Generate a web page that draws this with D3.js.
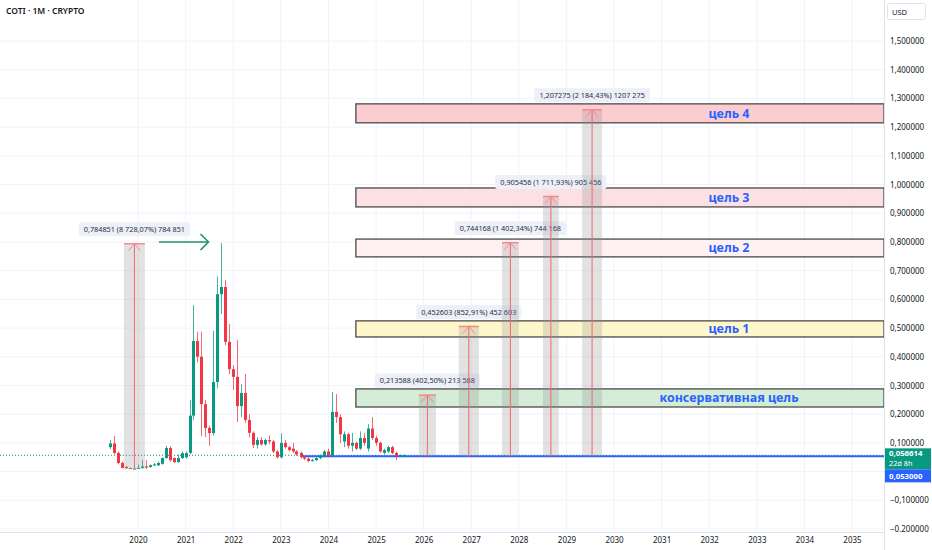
<!DOCTYPE html>
<html>
<head>
<meta charset="utf-8">
<script src="https://cdn.jsdelivr.net/npm/d3@7"></script>
<style>
  body { margin: 0; background: #fff; }
  svg { display: block; font-family: "Noto Sans", "Open Sans", sans-serif; }
</style>
</head>
<body>
<div id="chart-area"></div>
<script>
var total_width = 932;
var total_height = 550;

// monthly candles, first bar = June 2019
var candleStart = new Date(2019, 5, 1);
var candleOpen  = [0.085,0.098,0.065,0.030,0.016,0.012,0.010,0.011,0.013,0.018,0.016,0.021,0.022,0.027,0.047,0.082,0.047,0.033,0.047,0.050,
                   0.065,0.195,0.455,0.400,0.235,0.152,0.134,0.312,0.618,0.643,0.452,0.357,0.330,0.228,0.274,0.180,0.135,0.093,0.110,0.095,
                   0.110,0.105,0.070,0.050,0.100,0.085,0.080,0.070,0.065,0.050,0.045,0.037,0.040,0.047,0.055,0.070,0.055,0.208,0.190,0.105,
                   0.130,0.090,0.100,0.080,0.117,0.080,0.150,0.117,0.100,0.065,0.070,0.085,0.065,0.053,0.055];
var candleHigh  = [0.110,0.124,0.070,0.035,0.020,0.014,0.013,0.025,0.040,0.040,0.025,0.030,0.034,0.050,0.090,0.088,0.050,0.060,0.070,0.070,
                   0.250,0.580,0.487,0.487,0.250,0.160,0.490,0.680,0.796,0.667,0.514,0.370,0.459,0.305,0.340,0.200,0.140,0.120,0.120,0.115,
                   0.125,0.110,0.075,0.133,0.110,0.090,0.100,0.075,0.070,0.055,0.050,0.045,0.050,0.060,0.075,0.080,0.277,0.270,0.200,0.140,
                   0.135,0.135,0.105,0.140,0.135,0.165,0.190,0.125,0.105,0.080,0.090,0.090,0.070,0.060,0.060];
var candleLow   = [0.078,0.060,0.025,0.011,0.010,0.009,0.009,0.010,0.011,0.010,0.013,0.020,0.019,0.024,0.045,0.035,0.030,0.030,0.044,0.045,
                   0.060,0.180,0.380,0.124,0.120,0.090,0.125,0.290,0.550,0.440,0.340,0.284,0.173,0.190,0.170,0.120,0.082,0.080,0.090,0.090,
                   0.095,0.065,0.045,0.045,0.080,0.070,0.065,0.055,0.045,0.040,0.033,0.035,0.037,0.043,0.050,0.050,0.050,0.170,0.100,0.085,
                   0.080,0.070,0.075,0.075,0.090,0.070,0.110,0.090,0.065,0.060,0.065,0.060,0.040,0.050,0.053];
var candleClose = [0.098,0.065,0.030,0.013,0.012,0.009,0.0105,0.013,0.018,0.014,0.022,0.025,0.030,0.047,0.082,0.040,0.033,0.047,0.064,0.064,
                   0.195,0.455,0.400,0.235,0.152,0.134,0.312,0.618,0.643,0.452,0.357,0.330,0.228,0.274,0.180,0.135,0.093,0.110,0.095,0.110,
                   0.105,0.070,0.050,0.100,0.085,0.075,0.070,0.060,0.050,0.045,0.037,0.040,0.047,0.055,0.070,0.055,0.208,0.190,0.130,0.130,
                   0.090,0.100,0.080,0.117,0.100,0.150,0.117,0.100,0.070,0.075,0.085,0.065,0.053,0.056,0.0566];

// target zones
var zoneNames  = ["цель 4", "цель 3", "цель 2", "цель 1", "консервативная цель"];
var zoneLow    = [1.215, 0.922, 0.748, 0.469, 0.225];
var zoneHigh   = [1.281, 0.988, 0.810, 0.525, 0.288];
var zoneFill   = ["#fbcdd1", "#fde0e2", "#fff1f2", "#fff7cc", "#d5edd6"];
var zoneStart  = new Date(2024, 6, 30);

// measure arrows
var arrowStart = [new Date(2019,8,15), new Date(2025,10,25), new Date(2026,8,27), new Date(2027,7,25), new Date(2028,6,5), new Date(2029,4,1)];
var arrowEnd   = [new Date(2020,1,23), new Date(2026,3,5),   new Date(2027,2,1),  new Date(2028,0,1),  new Date(2028,10,3), new Date(2029,9,1)];
var arrowBase  = [0.00899, 0.053, 0.053, 0.053, 0.053, 0.053];
var arrowTop   = [0.793751, 0.266588, 0.505603, 0.797168, 0.958456, 1.260275];
var arrowText  = ["0,784851 (8 728,07%) 784 851", "0,213588 (402,50%) 213 588", "0,452603 (852,91%) 452 603",
                  "0,744168 (1 402,34%) 744 168", "0,905456 (1 711,93%) 905 456", "1,207275 (2 184,43%) 1207 275"];

// grid lines every 0.1, labels only where the reference shows them (0 is under the price tags)
var yGridValues = [-0.2,-0.1,0,0.1,0.2,0.3,0.4,0.5,0.6,0.7,0.8,0.9,1.0,1.1,1.2,1.3,1.4,1.5];
var yTickValues = [-0.2,-0.1,0.1,0.2,0.3,0.4,0.5,0.6,0.7,0.8,0.9,1.0,1.1,1.2,1.3,1.4,1.5];
var yTickLabels = ["−0.200000","−0,100000","0,100000","0,200000","0,300000","0,400000","0,500000","0,600000",
                   "0,700000","0,800000","0,900000","1,000000","1,100000","1,200000","1,300000","1,400000","1,500000"];
var xTickYears  = [2020,2021,2022,2023,2024,2025,2026,2027,2028,2029,2030,2031,2032,2033,2034,2035];

var lastPrice = 0.056614;
var linePrice = 0.053;
var lineStart = new Date(2023, 5, 20);
var greenArrowFrom = new Date(2020, 5, 10);
var greenArrowTo   = new Date(2021, 5, 25);
var greenArrowPrice = 0.80;

var plotRight = 884;
var plotBottom = 532;

var up = "#089981", down = "#f23645";

var svg = d3.select('#chart-area').append('svg')
            .attr("width", total_width)
            .attr("height", total_height);

var x = d3.scaleTime()
          .domain([new Date(2020,0,1), new Date(2035,0,1)])
          .range([138, 852]);

var y = d3.scaleLinear()
          .domain([-0.2, 1.5])
          .range([529, 41]);

// grid
var grid = svg.append("g");
grid.selectAll(".hg").data(yGridValues).enter().append("line")
    .attr("x1", 0).attr("x2", plotRight)
    .attr("y1", d => y(d)).attr("y2", d => y(d))
    .style("stroke", "#f0f3fa").style("stroke-width", 1);
grid.selectAll(".vg").data(xTickYears).enter().append("line")
    .attr("x1", d => x(new Date(d,0,1))).attr("x2", d => x(new Date(d,0,1)))
    .attr("y1", 0).attr("y2", plotBottom)
    .style("stroke", "#f0f3fa").style("stroke-width", 1);

// zones
var zones = svg.append("g");
zones.selectAll("rect").data(zoneNames).enter().append("rect")
    .attr("x", x(zoneStart))
    .attr("y", (d,i) => y(zoneHigh[i]))
    .attr("width", plotRight - x(zoneStart))
    .attr("height", (d,i) => y(zoneLow[i]) - y(zoneHigh[i]))
    .style("fill", (d,i) => zoneFill[i])
    .style("stroke", "#4a4a4a")
    .style("stroke-width", 1.3);

// last price dotted line and blue level line
svg.append("line")
    .attr("x1", 0).attr("x2", plotRight)
    .attr("y1", y(lastPrice)).attr("y2", y(lastPrice))
    .style("stroke", up).style("stroke-width", 1)
    .style("stroke-dasharray", "1,2");
svg.append("line")
    .attr("x1", x(lineStart)).attr("x2", plotRight)
    .attr("y1", y(linePrice)).attr("y2", y(linePrice))
    .style("stroke", "#2962ff").style("stroke-width", 2);

// candles
var candles = svg.append("g");
var candleIdx = d3.range(candleOpen.length);
function cx(i){ return Math.round(x(d3.timeMonth.offset(candleStart, i))) + 0.5; }
function ccol(i){ return candleClose[i] >= candleOpen[i] ? up : down; }
candles.selectAll(".wick").data(candleIdx).enter().append("line")
    .attr("x1", cx).attr("x2", cx)
    .attr("y1", i => y(candleHigh[i])).attr("y2", i => y(candleLow[i]))
    .style("stroke", ccol).style("stroke-width", 1).style("opacity", 0.75);
candles.selectAll(".body").data(candleIdx).enter().append("rect")
    .attr("x", i => cx(i) - 1.5)
    .attr("width", 3)
    .attr("y", i => y(Math.max(candleOpen[i], candleClose[i])))
    .attr("height", i => Math.max(1, Math.abs(y(candleOpen[i]) - y(candleClose[i]))))
    .style("fill", ccol);

// measure arrows
var arrows = svg.append("g");
arrowText.forEach(function(t, i){
  var x0 = x(arrowStart[i]), x1 = x(arrowEnd[i]);
  var mid = (x0 + x1) / 2;
  var yt = y(arrowTop[i]), yb = y(arrowBase[i]);
  arrows.append("rect")
    .attr("x", x0).attr("y", yt).attr("width", x1 - x0).attr("height", yb - yt)
    .style("fill", "rgba(140,140,140,0.25)");
  arrows.append("line")
    .attr("x1", mid).attr("x2", mid).attr("y1", yt).attr("y2", yb)
    .style("stroke", "#f4666b").style("stroke-width", 1);
  arrows.append("line")
    .attr("x1", x0).attr("x2", x1).attr("y1", yt).attr("y2", yt)
    .style("stroke", "#f6898d").style("stroke-width", 1.5);
  arrows.append("path")
    .attr("d", "M" + (mid - 6) + "," + (yt + 7) + "L" + mid + "," + yt + "L" + (mid + 6) + "," + (yt + 7))
    .style("fill", "none").style("stroke", "#f6898d").style("stroke-width", 1);

  var lab = arrows.append("g").attr("transform", "translate(" + mid + "," + (yt - 14.5) + ")");
  var bg = lab.append("rect").attr("rx", 2).style("fill", "#edf0f9");
  var tx = lab.append("text")
    .attr("text-anchor", "middle").attr("dy", "0.35em")
    .style("font-size", "7.3px").style("fill", "#2a2e39")
    .text(t);
  var w = tx.node().getComputedTextLength() + 10;
  bg.attr("x", -w/2).attr("y", -7).attr("width", w).attr("height", 14);
});

// zone titles
zones.selectAll("text").data(zoneNames).enter().append("text")
    .attr("x", 729)
    .attr("y", (d,i) => (y(zoneHigh[i]) + y(zoneLow[i])) / 2)
    .attr("dy", "0.36em")
    .attr("text-anchor", "middle")
    .style("font-size", "12.5px").style("font-weight", "bold")
    .style("fill", "#2962ff")
    .text(d => d);

// green pointer arrow
var gy = y(greenArrowPrice), gx0 = x(greenArrowFrom), gx1 = x(greenArrowTo);
svg.append("line").attr("x1", gx0).attr("x2", gx1).attr("y1", gy).attr("y2", gy)
    .style("stroke", "#22936f").style("stroke-width", 1.6);
svg.append("path")
    .attr("d", "M" + (gx1 - 8) + "," + (gy - 8) + "L" + gx1 + "," + gy + "L" + (gx1 - 8) + "," + (gy + 8))
    .style("fill", "none").style("stroke", "#22936f").style("stroke-width", 1.6);

// axes panels
svg.append("line").attr("x1", plotRight + 0.5).attr("x2", plotRight + 0.5).attr("y1", 0).attr("y2", total_height)
    .style("stroke", "#e0e3eb");
svg.append("line").attr("x1", 0).attr("x2", plotRight).attr("y1", plotBottom + 0.5).attr("y2", plotBottom + 0.5)
    .style("stroke", "#e0e3eb");

var yAxis = d3.axisRight(y)
    .tickValues(yTickValues)
    .tickSize(0)
    .tickPadding(6)
    .tickFormat((d,i) => yTickLabels[i]);
var yg = svg.append("g").attr("transform", "translate(" + plotRight + ",0)").call(yAxis);
yg.select(".domain").remove();
yg.selectAll("text").style("font-size", "8px").style("fill", "#131722").style("font-family", "Noto Sans, sans-serif");

var xAxis = d3.axisBottom(x)
    .tickValues(xTickYears.map(d => new Date(d,0,1)))
    .tickSize(0)
    .tickPadding(5)
    .tickFormat(d3.timeFormat("%Y"));
var xg = svg.append("g").attr("transform", "translate(0," + plotBottom + ")").call(xAxis);
xg.select(".domain").remove();
xg.selectAll("text").style("font-size", "8px").style("fill", "#131722").style("font-family", "Noto Sans, sans-serif");

// price labels on the axis
var pl = svg.append("g").attr("transform", "translate(" + (plotRight + 1) + "," + (y(lastPrice) - 7) + ")");
pl.append("rect").attr("width", 46).attr("height", 21).style("fill", up);
pl.append("text").attr("x", 4).attr("y", 8).style("font-size", "7.8px").style("font-weight", "bold").style("fill", "#fff").text("0,056614");
pl.append("text").attr("x", 4).attr("y", 17.5).style("font-size", "7.3px").style("fill", "#fff").text("22d 8h");
var bl = svg.append("g").attr("transform", "translate(" + (plotRight + 1) + "," + (y(lastPrice) + 14) + ")");
bl.append("rect").attr("width", 46).attr("height", 13).style("fill", "#2962ff");
bl.append("text").attr("x", 4).attr("y", 9.5).style("font-size", "7.8px").style("font-weight", "bold").style("fill", "#fff").text("0,053000");

// currency box
svg.append("rect").attr("x", 887.5).attr("y", 3.5).attr("width", 38).attr("height", 16).attr("rx", 2)
    .style("fill", "#fff").style("stroke", "#e0e3eb");
svg.append("text").attr("x", 892).attr("y", 14.5).style("font-size", "7.5px").style("fill", "#131722").text("USD");

// title
svg.append("text").attr("x", 6).attr("y", 14)
    .style("font-size", "8.5px").style("font-weight", "600").style("fill", "#131722")
    .text("COTI · 1M · CRYPTO");
</script>
</body>
</html>
